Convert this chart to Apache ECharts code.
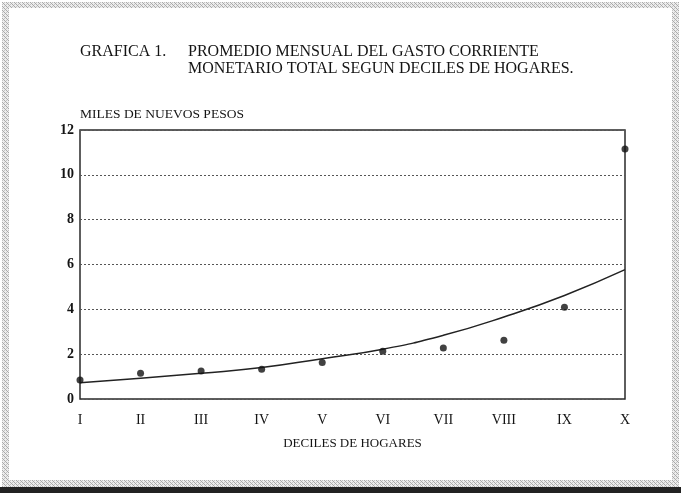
<!DOCTYPE html>
<html>
<head>
<meta charset="utf-8">
<script src="https://cdn.jsdelivr.net/npm/echarts@6/dist/echarts.min.js"></script>
<style>
html,body{margin:0;padding:0;background:#fff;}
#chart{width:681px;height:493px;}
</style>
</head>
<body>
<div id="chart"></div>
<script>
// Data
const deciles = ['I','II','III','IV','V','VI','VII','VIII','IX','X'];
const gastoObservado = [0.85, 1.15, 1.25, 1.33, 1.63, 2.13, 2.27, 2.62, 4.09, 11.15];
const tendencia = [0.72, 0.93, 1.15, 1.40, 1.80, 2.22, 2.84, 3.66, 4.62, 5.77];
const yTicks = [0, 2, 4, 6, 8, 10, 12];
const titleLine1a = 'GRAFICA 1.';
const titleLine1b = 'PROMEDIO MENSUAL DEL GASTO CORRIENTE';
const titleLine2 = 'MONETARIO TOTAL SEGUN DECILES DE HOGARES.';
const yName = 'MILES DE NUEVOS PESOS';
const xName = 'DECILES DE HOGARES';

const serif = '"Liberation Serif", "DejaVu Serif", serif';
const ink = '#141414';

// small hatch pattern for the scanned page border
const pc = document.createElement('canvas');
pc.width = 4; pc.height = 4;
const pctx = pc.getContext('2d');
pctx.fillStyle = '#ececec';
pctx.fillRect(0, 0, 4, 4);
pctx.fillStyle = '#a9a9a9';
pctx.fillRect(0, 0, 1, 1); pctx.fillRect(1, 1, 1, 1); pctx.fillRect(2, 2, 1, 1); pctx.fillRect(3, 3, 1, 1);
pctx.fillStyle = '#c4c4c4';
pctx.fillRect(2, 0, 1, 1); pctx.fillRect(0, 2, 1, 1);
const hatch = {image: pc, repeat: 'repeat'};

const chart = echarts.init(document.getElementById('chart'), null, {renderer: 'canvas'});
chart.setOption({
  backgroundColor: '#fff',
  animation: false,
  grid: {left: 80, right: 56, top: 130, bottom: 94, show: true, borderColor: '#2a2a2a', borderWidth: 1.5, backgroundColor: 'transparent'},
  xAxis: {
    type: 'category',
    data: deciles,
    boundaryGap: false,
    axisLine: {show: false},
    axisTick: {show: false},
    axisLabel: {color: ink, fontFamily: serif, fontSize: 14, margin: 14},
    splitLine: {show: false},
    name: xName,
    nameLocation: 'middle',
    nameGap: 38,
    nameTextStyle: {color: ink, fontFamily: serif, fontSize: 13}
  },
  yAxis: {
    type: 'value',
    min: yTicks[0],
    max: yTicks[yTicks.length - 1],
    interval: 2,
    axisLine: {show: false},
    axisTick: {show: false},
    axisLabel: {color: ink, fontFamily: serif, fontSize: 14, fontWeight: 'bold', margin: 6},
    splitLine: {show: true, lineStyle: {color: '#555', type: [2, 2], width: 1}},
    name: yName,
    nameLocation: 'end',
    nameGap: 9,
    nameTextStyle: {color: ink, fontFamily: serif, fontSize: 13.5, align: 'left'}
  },
  series: [
    {
      type: 'line',
      data: tendencia,
      smooth: true,
      symbol: 'none',
      lineStyle: {color: '#222', width: 1.5},
      z: 2
    },
    {
      type: 'scatter',
      data: gastoObservado,
      symbol: 'circle',
      symbolSize: 7,
      itemStyle: {color: '#111'},
      z: 3
    }
  ],
  graphic: [
    {type: 'rect', shape: {x: 2, y: 2, width: 677, height: 6}, style: {fill: hatch}, silent: true},
    {type: 'rect', shape: {x: 2, y: 2, width: 7, height: 485}, style: {fill: hatch}, silent: true},
    {type: 'rect', shape: {x: 672, y: 2, width: 7, height: 485}, style: {fill: hatch}, silent: true},
    {type: 'rect', shape: {x: 2, y: 480, width: 677, height: 7}, style: {fill: hatch}, silent: true},
    {type: 'rect', shape: {x: 0, y: 487, width: 681, height: 6}, style: {fill: '#222'}, silent: true},
    {type: 'text', x: 80, y: 44, style: {text: titleLine1a, font: '16px ' + serif, fill: ink}},
    {type: 'text', x: 188, y: 44, style: {text: titleLine1b, font: '16px ' + serif, fill: ink}},
    {type: 'text', x: 188, y: 61, style: {text: titleLine2, font: '16px ' + serif, fill: ink}}
  ]
});
</script>
</body>
</html>
